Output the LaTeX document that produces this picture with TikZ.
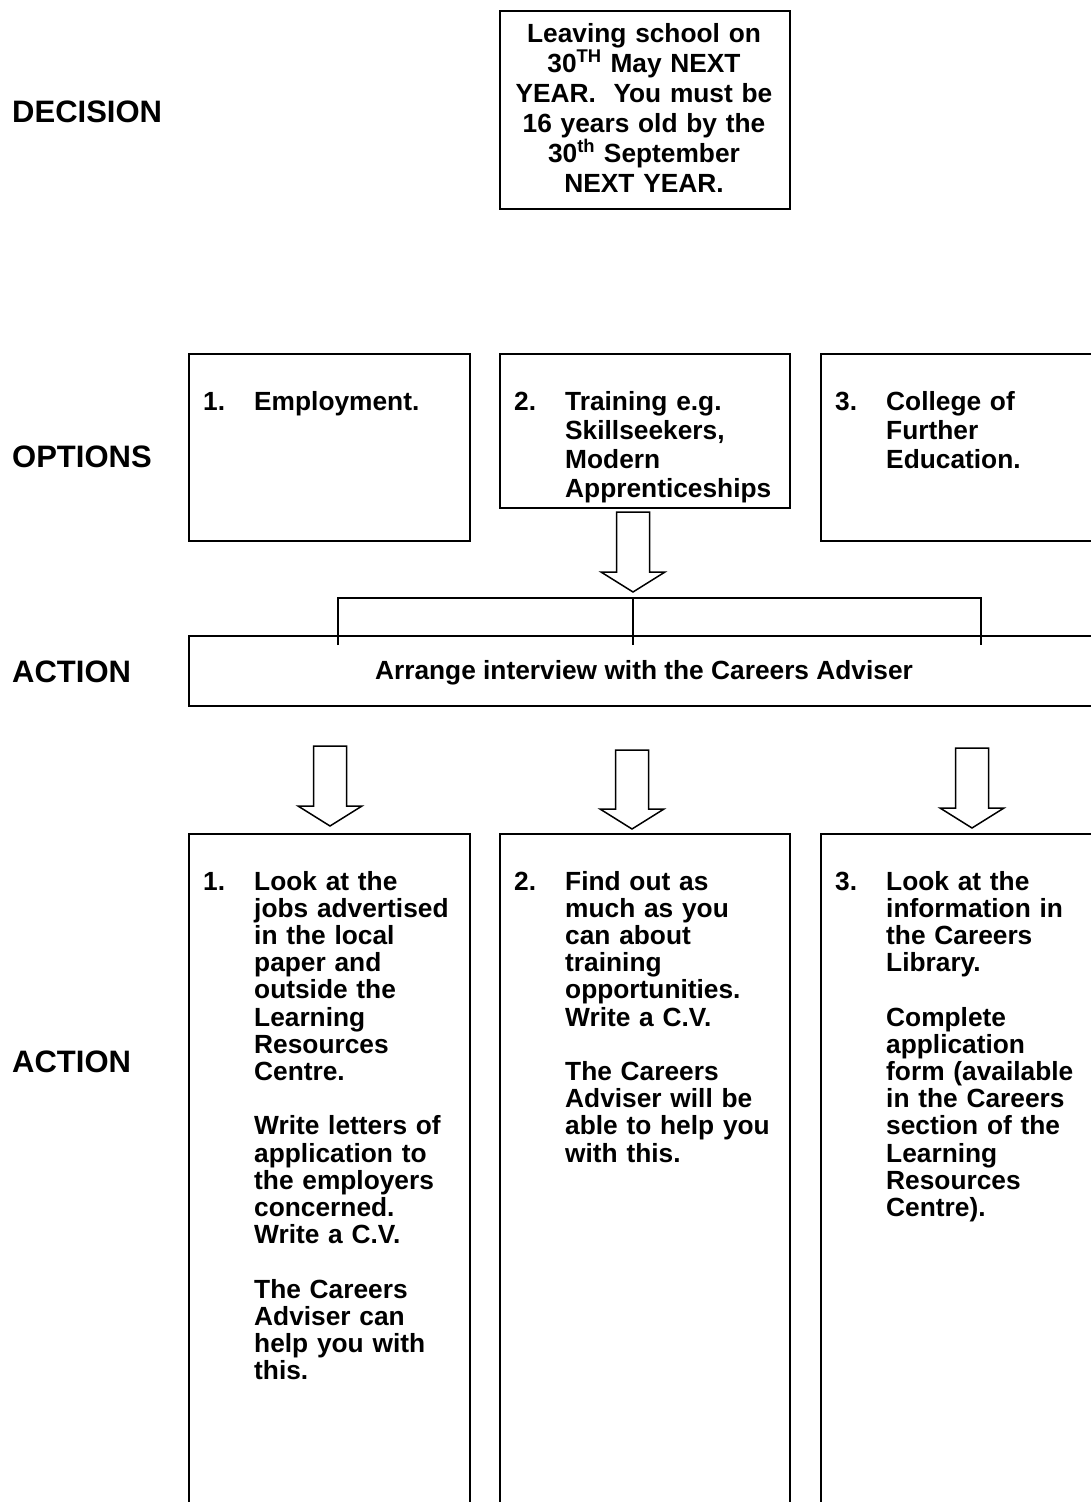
\documentclass[tikz,border=0pt]{standalone}
\usepackage{fontspec}
\setmainfont{Liberation Sans}
\usetikzlibrary{calc}
\tikzset{
  boxline/.style={draw,line width=2.2pt,inner sep=0pt,anchor=north west},
  lbl/.style={font=\fontsize{31}{31}\selectfont\bfseries,inner sep=0pt,anchor=base west},
  num/.style={font=\fontsize{26.3}{27.2}\selectfont\bfseries,inner sep=0pt,anchor=base west},
  body/.style={font=\fontsize{26.3}{27.2}\selectfont\bfseries,inner sep=0pt,anchor=base west,align=left,text width=225pt},
  opt/.style={body,font=\fontsize{26.3}{29}\selectfont\bfseries},
  blk/.style={draw,line width=1.5pt,line join=miter,fill=white},
  brk/.style={draw,line width=1.3pt},
}
\newcommand{\blockarrow}[2]{%
  \draw[blk] ($(#1)+(-16.5,0)$) -- ($(#2)+(-16.5,-20)$) -- ($(#2)+(-32,-20)$) -- (#2)
    -- ($(#2)+(32,-20)$) -- ($(#2)+(16.5,-20)$) -- ($(#1)+(16.5,0)$) -- cycle;}
\begin{document}
\begin{tikzpicture}[x=1pt,y=-1pt]
\useasboundingbox (0,0) rectangle (1091,1502);
\clip (0,0) rectangle (1091,1502);

% row labels
\node[lbl] (ldec) at (12,122) {DECISION};
\node[lbl] (lopt) at (12,467) {OPTIONS};
\node[lbl] (lact1) at (12,682) {ACTION};
\node[lbl] (lact2) at (12,1072) {ACTION};

% decision box
\node[boxline,minimum width=290pt,minimum height=198pt] (dec) at (499,10) {};
\node[font=\fontsize{26.3}{30}\selectfont\bfseries,inner sep=0pt,anchor=base,align=center,text width=290pt] (dect) at (644,42)
  {Leaving school on\\30\textsuperscript{TH} May NEXT\\YEAR.~ You must be\\16 years old by the\\30\textsuperscript{th} September\\NEXT YEAR.};

% option boxes
\node[boxline,minimum width=281pt,minimum height=187pt] (o1) at (188,353) {};
\node[boxline,minimum width=290pt,minimum height=154pt] (o2) at (499,353) {};
\node[boxline,minimum width=320pt,minimum height=187pt] (o3) at (820,353) {};
\node[num] (o1n) at (203,410) {1.};
\node[opt] (o1t) at (254,410) {Employment.};
\node[num] (o2n) at (514,410) {2.};
\node[opt] (o2t) at (565,410) {Training e.g.\\Skillseekers,\\Modern\\Apprenticeships};
\node[num] (o3n) at (835,410) {3.};
\node[opt] (o3t) at (886,410) {College of\\Further\\Education.};

% arrow to bracket
\coordinate (a0s) at (633,512);
\coordinate (a0e) at (633,592);
\blockarrow{a0s}{a0e}

% action box
\node[boxline,minimum width=950pt,minimum height=70pt] (act) at (188,635) {};
\node[font=\fontsize{26.3}{27.2}\selectfont\bfseries,inner sep=0pt,anchor=base] (actt) at (644,679) {Arrange interview with the Careers Adviser};

% bracket
\coordinate (bl) at (338,598);
\coordinate (bm) at (633,598);
\coordinate (br) at (981,598);
\draw[brk] ($(bl)+(0,47)$) -- (bl) -- (br) -- ($(br)+(0,47)$);
\draw[brk] (bm) -- ($(bm)+(0,47)$);

% arrows to action boxes
\coordinate (a1s) at (330,746); \coordinate (a1e) at (330,826);
\coordinate (a2s) at (632,750); \coordinate (a2e) at (632,829);
\coordinate (a3s) at (972,748); \coordinate (a3e) at (972,828);
\blockarrow{a1s}{a1e}
\blockarrow{a2s}{a2e}
\blockarrow{a3s}{a3e}

% bottom boxes (open at the bottom of the page)
\node[boxline,minimum width=281pt,minimum height=720pt] (b1) at (188,833) {};
\node[boxline,minimum width=290pt,minimum height=720pt] (b2) at (499,833) {};
\node[boxline,minimum width=320pt,minimum height=720pt] (b3) at (820,833) {};

\node[num] (b1n) at (203,890) {1.};
\node[body] (b1t) at (254,890) {Look at the\\jobs advertised\\in the local\\paper and\\outside the\\Learning\\Resources\\Centre.\\[27.2pt]Write letters of\\application to\\the employers\\concerned.\\Write a C.V.\\[27.2pt]The Careers\\Adviser can\\help you with\\this.};
\node[num] (b2n) at (514,890) {2.};
\node[body] (b2t) at (565,890) {Find out as\\much as you\\can about\\training\\opportunities.\\Write a C.V.\\[27.2pt]The Careers\\Adviser will be\\able to help you\\with this.};
\node[num] (b3n) at (835,890) {3.};
\node[body] (b3t) at (886,890) {Look at the\\information in\\the Careers\\Library.\\[27.2pt]Complete\\application\\form (available\\in the Careers\\section of the\\Learning\\Resources\\Centre).};
\end{tikzpicture}
\end{document}
